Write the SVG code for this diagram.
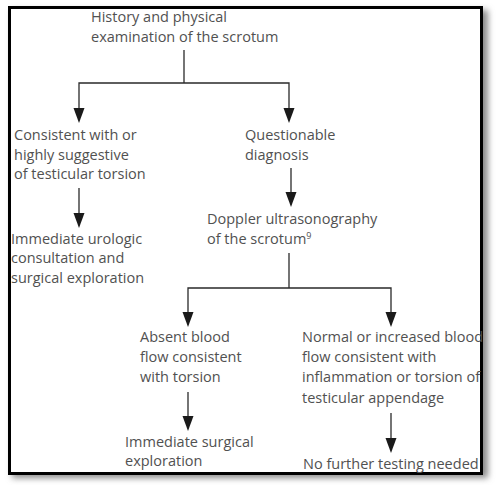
<svg xmlns="http://www.w3.org/2000/svg" width="500" height="485" viewBox="0 0 500 485">
<defs>
<style>
text{font-family:"Open Sans","Noto Sans","DejaVu Sans",sans-serif;font-size:14.5px;fill:#515151}
.ln{stroke:#2a2a2a;stroke-width:1.3;fill:none}
.hd{fill:#1a1a1a}
</style>
<filter id="sh" x="-5%" y="-5%" width="115%" height="115%">
<feGaussianBlur stdDeviation="3"/>
</filter>
</defs>
<rect x="12" y="10" width="476" height="468" fill="#8a8a8a" filter="url(#sh)"/>
<rect x="9.5" y="7.5" width="472" height="466" fill="#ffffff" stroke="#000" stroke-width="3"/>

<g id="connectors">
<polyline class="ln" points="184,50 184,83"/>
<polyline class="ln" points="79,108 79,83 289,83 289,108"/>
<path class="hd" d="M73.5,108 L84.5,108 L79,123 Z"/>
<path class="hd" d="M283.5,108 L294.5,108 L289,123 Z"/>
<line class="ln" x1="79" y1="188" x2="79" y2="214"/>
<path class="hd" d="M73.5,213 L84.5,213 L79,228 Z"/>
<line class="ln" x1="291" y1="168" x2="291" y2="193"/>
<path class="hd" d="M285.5,192 L296.5,192 L291,207 Z"/>
<polyline class="ln" points="289,253 289,288"/>
<polyline class="ln" points="188,313 188,288 391,288 391,313"/>
<path class="hd" d="M182.5,312 L193.5,312 L188,327 Z"/>
<path class="hd" d="M385.5,312 L396.5,312 L391,327 Z"/>
<line class="ln" x1="188" y1="392" x2="188" y2="417"/>
<path class="hd" d="M182.5,416 L193.5,416 L188,431 Z"/>
<line class="ln" x1="391" y1="413" x2="391" y2="439"/>
<path class="hd" d="M385.5,438 L396.5,438 L391,453 Z"/>
</g>

<g id="history">
<text x="91" y="22">History and physical</text>
<text x="91" y="42">examination of the scrotum</text>
</g>
<g id="consistent">
<text x="14" y="140">Consistent with or</text>
<text x="14" y="160">highly suggestive</text>
<text x="14" y="179">of testicular torsion</text>
</g>
<g id="questionable">
<text x="245" y="140">Questionable</text>
<text x="245" y="160">diagnosis</text>
</g>
<g id="urologic">
<text x="11" y="244">Immediate urologic</text>
<text x="11" y="263">consultation and</text>
<text x="11" y="283">surgical exploration</text>
</g>
<g id="doppler">
<text x="207" y="224">Doppler ultrasonography</text>
<text x="207" y="244">of the scrotum<tspan font-size="9" dy="-5">9</tspan></text>
</g>
<g id="absent">
<text x="140" y="342">Absent blood</text>
<text x="140" y="362">flow consistent</text>
<text x="140" y="382">with torsion</text>
</g>
<g id="normal">
<text x="302" y="342">Normal or increased blood</text>
<text x="302" y="362">flow consistent with</text>
<text x="302" y="382">inflammation or torsion of</text>
<text x="302" y="403">testicular appendage</text>
</g>
<g id="surgical">
<text x="125" y="447">Immediate surgical</text>
<text x="125" y="466">exploration</text>
</g>
<g id="nofurther">
<text x="303" y="469">No further testing needed</text>
</g>
</svg>
